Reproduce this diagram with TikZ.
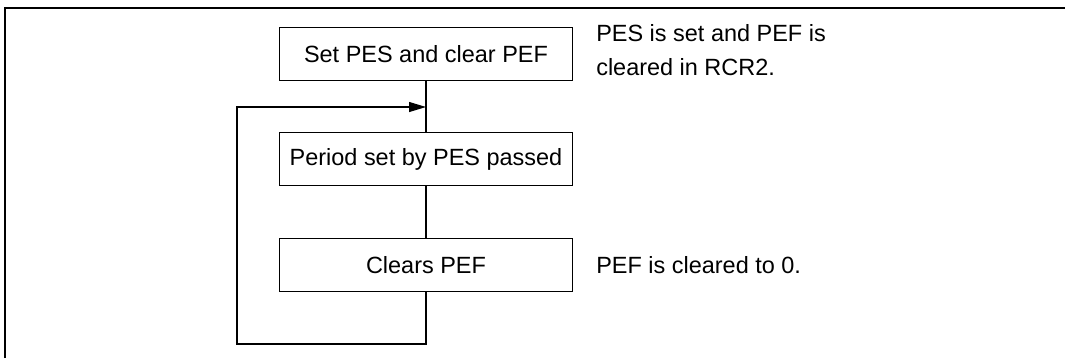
\documentclass[tikz,border=0pt]{standalone}
\usepackage{fontspec}
\setmainfont{Liberation Sans}
\usetikzlibrary{arrows.meta}
\newcommand{\flowfont}{\fontsize{17.6}{20}\selectfont}

\begin{document}
\begin{tikzpicture}[x=0.75pt, y=-0.75pt,
    stepbox/.style={rectangle, draw, line width=0.8pt, minimum width=220pt, minimum height=39.4pt, inner sep=0pt, font=\flowfont},
    note/.style={anchor=west, align=left, inner sep=0pt, font=\flowfont},
    flow/.style={line width=0.8pt}]
    \useasboundingbox (0,0) rectangle (1065,358);

    % outer frame, only top and left edges show
    \draw[line width=1.6pt] (5,358) -- (5,8) -- (1065,8);

    % steps
    \node[stepbox] (setpes) at (426,54) {Set PES and clear PEF};
    \node[stepbox] (period) at (426,159) {Period set by PES passed};
    \node[stepbox] (clears) at (426,265) {Clears PEF};

    % notes on the right
    \node[note] (setnote) at (596,50) {PES is set and PEF is\\[5pt]cleared in RCR2.};
    \node[note] (clearnote) at (596,265) {PEF is cleared to 0.};

    % loop back
    \coordinate (join) at (426,107);
    \coordinate (loopbl) at (237,344);
    \coordinate (looptl) at (237,107);
    \draw[flow] (setpes) -- (period);
    \draw[flow] (period) -- (clears);
    \draw[flow, -{Triangle[length=12.75pt, width=7.5pt]}] (clears.south) |- (loopbl) -- (looptl) -- (join);
\end{tikzpicture}
\end{document}
